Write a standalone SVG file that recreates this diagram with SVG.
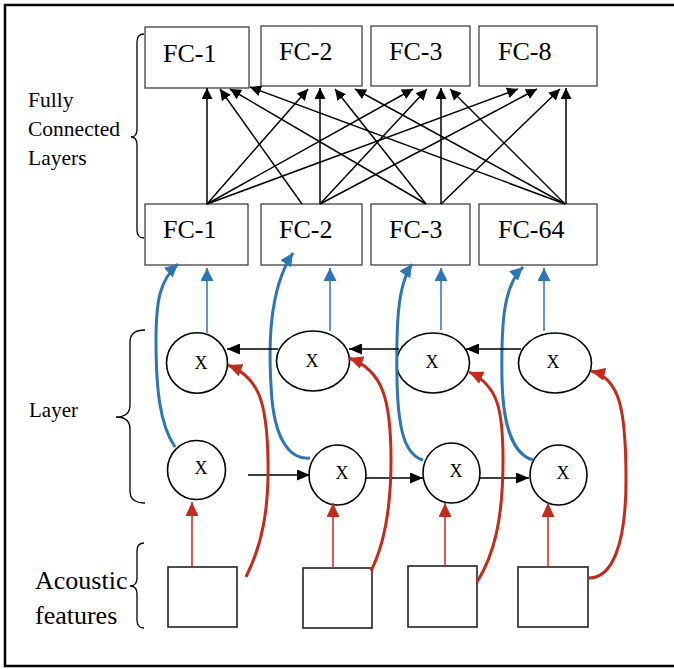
<svg xmlns="http://www.w3.org/2000/svg" width="674" height="669" viewBox="0 0 674 669">
<style>
.box{fill:#fff;stroke:#333;stroke-width:1.2}
.abox{fill:#fff;stroke:#222;stroke-width:1.6}
.node{fill:#fff;stroke:#000;stroke-width:1.6}
text{font-family:'Liberation Serif','Times New Roman',Times,serif;fill:#000}
.fc{font-size:26px}
.x{font-size:18px;text-anchor:middle}
.side{font-size:21.5px}
.k{fill:none;stroke:#000;stroke-width:1.5}
.b{fill:none;stroke:#2E75B6;stroke-width:1.5}
.bc{fill:none;stroke:#2E75B6;stroke-width:3}
.r{fill:none;stroke:#C42B1C;stroke-width:1.5}
.rc{fill:none;stroke:#C42B1C;stroke-width:3}
.brace{fill:none;stroke:#000;stroke-width:1.3}
</style>
<defs>
<marker id="ak" viewBox="0 0 10 10" refX="10" refY="5" markerWidth="11" markerHeight="11" markerUnits="userSpaceOnUse" orient="auto" preserveAspectRatio="none"><path d="M0,0 L10,5 L0,10 z" fill="#000"/></marker>
<marker id="akh" viewBox="0 0 10 10" refX="10" refY="5" markerWidth="13" markerHeight="11" markerUnits="userSpaceOnUse" orient="auto" preserveAspectRatio="none"><path d="M0,0 L10,5 L0,10 z" fill="#000"/></marker>
<marker id="ab" viewBox="0 0 10 10" refX="10" refY="5" markerWidth="13" markerHeight="13" markerUnits="userSpaceOnUse" orient="auto" preserveAspectRatio="none"><path d="M0,0 L10,5 L0,10 z" fill="#2E75B6"/></marker>
<marker id="ar" viewBox="0 0 10 10" refX="10" refY="5" markerWidth="14" markerHeight="13" markerUnits="userSpaceOnUse" orient="auto" preserveAspectRatio="none"><path d="M0,0 L10,5 L0,10 z" fill="#C42B1C"/></marker>
</defs>
<rect x="5" y="5" width="700" height="661" fill="#fff" stroke="#000" stroke-width="2.5"/>

<g id="labels">
<text class="side" x="28" y="107">Fully</text>
<text class="side" x="28" y="136">Connected</text>
<text class="side" x="28" y="165">Layers</text>
<text style="font-size:21px" x="29" y="417">Layer</text>
<text style="font-size:26px" x="35" y="589">Acoustic</text>
<text style="font-size:26px" x="35" y="624">features</text>
<path class="brace" d="M144,34 Q137,34 137,42 L137,129 Q137,137 131,137 Q137,137 137,145 L137,230 Q137,238 144,238"/>
<path class="brace" d="M145,330 Q130,330 130,342 L130,405 Q130,417 116,417 Q130,417 130,429 L130,491 Q130,503 145,503"/>
<path class="brace" d="M144,543 Q137,543 137,551 L137,578 Q137,586 130,586 Q137,586 137,594 L137,620 Q137,628 144,628"/>
</g>

<g id="fc-top-1"><rect class="box" x="145" y="27" width="104" height="61"/><text class="fc" x="163" y="62">FC-1</text></g>
<g id="fc-top-2"><rect class="box" x="261" y="26" width="101" height="60"/><text class="fc" x="279" y="60">FC-2</text></g>
<g id="fc-top-3"><rect class="box" x="371" y="26" width="99" height="60"/><text class="fc" x="389" y="60">FC-3</text></g>
<g id="fc-top-8"><rect class="box" x="479" y="26" width="118" height="60"/><text class="fc" x="498" y="60">FC-8</text></g>

<g id="fc-bot-1"><rect class="box" x="145" y="204" width="103" height="61"/><text class="fc" x="163" y="238">FC-1</text></g>
<g id="fc-bot-2"><rect class="box" x="261" y="204" width="101" height="61"/><text class="fc" x="279" y="238">FC-2</text></g>
<g id="fc-bot-3"><rect class="box" x="371" y="204" width="99" height="61"/><text class="fc" x="389" y="238">FC-3</text></g>
<g id="fc-bot-64"><rect class="box" x="479" y="204" width="118" height="61"/><text class="fc" x="498" y="238">FC-64</text></g>

<g id="top-1"><ellipse class="node" cx="197" cy="363" rx="30.5" ry="30.3"/><text class="x" x="201" y="369">X</text></g>
<g id="top-2"><ellipse class="node" cx="313" cy="361" rx="36.5" ry="30"/><text class="x" x="312" y="367">X</text></g>
<g id="top-3"><ellipse class="node" cx="433" cy="363" rx="36.5" ry="30"/><text class="x" x="432" y="368">X</text></g>
<g id="top-4"><ellipse class="node" cx="555" cy="363" rx="36.5" ry="30"/><text class="x" x="553" y="368">X</text></g>

<g id="bot-1"><ellipse class="node" cx="196.5" cy="470" rx="29" ry="29.5"/><text class="x" x="201" y="474">X</text></g>
<g id="bot-2"><ellipse class="node" cx="337.5" cy="475" rx="28.5" ry="30"/><text class="x" x="342" y="479">X</text></g>
<g id="bot-3"><ellipse class="node" cx="451.5" cy="473" rx="28.5" ry="30"/><text class="x" x="456" y="477">X</text></g>
<g id="bot-4"><ellipse class="node" cx="558.5" cy="475" rx="28.5" ry="30"/><text class="x" x="563" y="479">X</text></g>

<g id="in-1"><rect class="abox" x="168" y="567" width="69" height="60"/></g>
<g id="in-2"><rect class="abox" x="303" y="568" width="69" height="60"/></g>
<g id="in-3"><rect class="abox" x="408" y="566" width="69" height="61"/></g>
<g id="in-4"><rect class="abox" x="518" y="567" width="70" height="60"/></g>

<g id="connectors">
<line class="k" x1="207" y1="204" x2="207" y2="88" marker-end="url(#ak)"/>
<line class="k" x1="207" y1="204" x2="308" y2="89" marker-end="url(#ak)"/>
<line class="k" x1="207" y1="204" x2="413" y2="89" marker-end="url(#ak)"/>
<line class="k" x1="207" y1="204" x2="518" y2="89" marker-end="url(#ak)"/>
<line class="k" x1="302" y1="204" x2="220" y2="89" marker-end="url(#ak)"/>
<line class="k" x1="320" y1="204" x2="320" y2="88" marker-end="url(#ak)"/>
<line class="k" x1="320" y1="204" x2="427" y2="89" marker-end="url(#ak)"/>
<line class="k" x1="320" y1="204" x2="537" y2="89" marker-end="url(#ak)"/>
<line class="k" x1="426" y1="204" x2="230" y2="89" marker-end="url(#ak)"/>
<line class="k" x1="426" y1="204" x2="335" y2="89" marker-end="url(#ak)"/>
<line class="k" x1="441" y1="204" x2="441" y2="88" marker-end="url(#ak)"/>
<line class="k" x1="441" y1="204" x2="560" y2="89" marker-end="url(#ak)"/>
<line class="k" x1="565" y1="204" x2="250" y2="87" marker-end="url(#ak)"/>
<line class="k" x1="565" y1="204" x2="355" y2="89" marker-end="url(#ak)"/>
<line class="k" x1="565" y1="204" x2="450" y2="89" marker-end="url(#ak)"/>
<line class="k" x1="566" y1="204" x2="566" y2="88" marker-end="url(#ak)"/>

<line class="b" x1="207" y1="333" x2="207" y2="268" marker-end="url(#ab)"/>
<line class="b" x1="330" y1="331" x2="330" y2="268" marker-end="url(#ab)"/>
<line class="b" x1="441" y1="330" x2="441" y2="268" marker-end="url(#ab)"/>
<line class="b" x1="544" y1="331" x2="544" y2="268" marker-end="url(#ab)"/>

<path class="bc" d="M175,447 C160,425 156,390 156,340 C156,300 160,280 178,264" marker-end="url(#ab)"/>
<path class="bc" d="M310,458 C290,460 276,440 272,400 C268,350 268,290 293,253" marker-end="url(#ab)"/>
<path class="bc" d="M423,460 C405,455 398,430 397,380 C396,320 398,285 412,264" marker-end="url(#ab)"/>
<path class="bc" d="M533,460 C515,455 503,430 502,380 C501,320 504,285 523,267" marker-end="url(#ab)"/>

<line class="k" x1="278" y1="349" x2="227" y2="349" marker-end="url(#akh)"/>
<line class="k" x1="399" y1="349" x2="349" y2="349" marker-end="url(#akh)"/>
<line class="k" x1="521" y1="349" x2="466" y2="349" marker-end="url(#akh)"/>
<line class="k" x1="248" y1="475" x2="310" y2="475" marker-end="url(#akh)"/>
<line class="k" x1="366" y1="478" x2="423" y2="478" marker-end="url(#akh)"/>
<line class="k" x1="480" y1="478" x2="529" y2="478" marker-end="url(#akh)"/>

<line class="r" x1="192" y1="567" x2="192" y2="502" marker-end="url(#ar)"/>
<line class="r" x1="333" y1="568" x2="333" y2="503" marker-end="url(#ar)"/>
<line class="r" x1="445" y1="566" x2="445" y2="503" marker-end="url(#ar)"/>
<line class="r" x1="548" y1="567" x2="548" y2="503" marker-end="url(#ar)"/>

<path class="rc" d="M246,577 C262,545 269,510 268,460 C267,400 258,377 228,365" marker-end="url(#ar)"/>
<path class="rc" d="M371,571 C384,545 391,510 391,460 C391,400 383,370 349,358" marker-end="url(#ar)"/>
<path class="rc" d="M477,582 C494,555 503,520 503,460 C503,410 498,385 469,372" marker-end="url(#ar)"/>
<path class="rc" d="M589,578 C612,578 626,545 626,480 C626,410 620,378 591,371" marker-end="url(#ar)"/>
</g>
</svg>
